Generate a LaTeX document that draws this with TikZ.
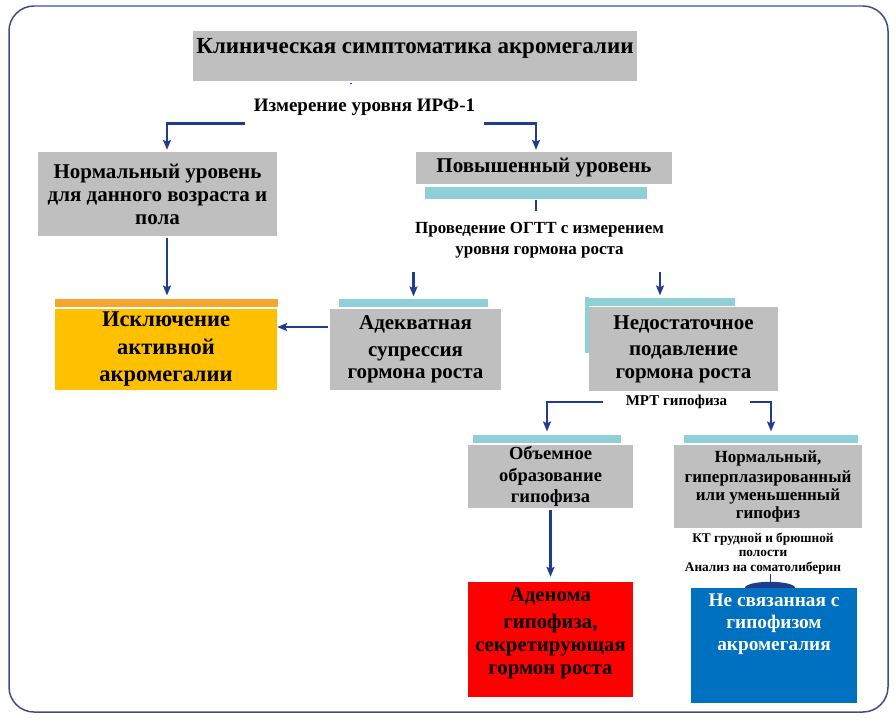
\documentclass[tikz,border=0pt]{standalone}
\usepackage{fontspec}
\setmainfont{Liberation Serif}
\usetikzlibrary{positioning,calc,arrows.meta}

\definecolor{boxgray}{HTML}{BFBFBF}
\definecolor{barcyan}{HTML}{8FD0D8}
\definecolor{barorange}{HTML}{F4A72E}
\definecolor{exclyellow}{HTML}{FFC000}
\definecolor{adenred}{HTML}{FF0000}
\definecolor{extrablue}{HTML}{0070C0}
\definecolor{arrowblue}{HTML}{203C8C}
\definecolor{framec}{HTML}{454A82}
\definecolor{frametop}{HTML}{8088D0}

\newcommand{\bfsz}[2]{\fontsize{#1}{#2}\selectfont\bfseries}

\begin{document}
\begin{tikzpicture}[x=1pt, y=-1pt,
    box/.style={fill=boxgray, align=center, inner sep=0pt},
    bar/.style={fill=barcyan, inner sep=0pt, minimum height=8pt},
    lbl/.style={align=center, inner sep=0pt},
    arr/.style={draw=arrowblue, line width=2.8pt, -{Stealth[length=10pt, width=8pt, inset=2pt]}},
    link/.style={draw=arrowblue, line width=2.8pt}]
  \useasboundingbox (0,0) rectangle (896,724);
  \draw[framec, line width=1.5pt, rounded corners=25pt] (9,6) rectangle (888,712); % outer frame
  \draw[frametop, line width=1.5pt] (34,6) -- (863,6); % lighter top edge

  \node[box, minimum width=444pt, minimum height=50pt, text height=15pt, text depth=20pt,
        font=\bfsz{23}{27}] (t) at (415,56) {Клиническая симптоматика акромегалии};
  \node[lbl, inner xsep=9pt, inner ysep=8pt, font=\bfsz{19}{22}] (irf) at (364.5,107) {Измерение уровня ИРФ-1};

  \node[box, minimum width=239pt, minimum height=84pt, font=\bfsz{21}{23}] (norm) at (157.5,194) {Нормальный уровень\\для данного возраста и\\пола};
  \node[box, minimum width=256pt, minimum height=32pt, font=\bfsz{21}{23}] (high) at (544,168) {Повышенный уровень};
  \node[bar, minimum width=222pt, minimum height=12pt, below=3pt of high, xshift=-8pt] (highbar) {};
  \node[lbl, font=\bfsz{17}{21}] (ogtt) at (539.5,240) {Проведение ОГТТ с измерением\\уровня гормона роста};

  % second row
  \node[box, fill=exclyellow, minimum width=222pt, minimum height=81pt, font=\bfsz{22.5}{27.5}] (excl) at (166,349.5) {Исключение\\активной\\акромегалии};
  \node[bar, fill=barorange, minimum width=223pt, above=2pt of excl] (exclbar) {};
  \node[box, minimum width=171pt, minimum height=81pt, font=\bfsz{21}{22.5}] (adeq) at (415.5,349.5) {Адекватная\\[4pt]супрессия\\гормона роста};
  \node[bar, minimum width=149pt, above=2pt of adeq, xshift=-2pt] (adeqbar) {};
  \node[box, minimum width=189pt, minimum height=84pt, font=\bfsz{21}{22.5}] (insuf) at (683.5,349) {Недостаточное\\[4pt]подавление\\гормона роста};
  \node[bar, minimum width=150pt, above=1pt of insuf, xshift=-23.5pt] (insufbar) {};
  \fill[barcyan] (insufbar.north west) rectangle ++(4,56);

  \node[lbl, inner xsep=23pt, font=\bfsz{15}{18}] (mri) at (676.5,402) {МРТ гипофиза};
  \node[box, minimum width=165pt, minimum height=63pt, font=\bfsz{18.5}{21.5}] (mass) at (550.5,476.5) {Объемное\\образование\\гипофиза};
  \node[bar, minimum width=148pt, above=2pt of mass, xshift=-3.5pt] (massbar) {};
  \node[box, minimum width=188pt, minimum height=83pt, font=\bfsz{17}{18}] (nrm) at (768,486.5) {Нормальный,\\[2pt]гиперплазированный\\или уменьшенный\\гипофиз};
  \node[bar, minimum width=174pt, above=2pt of nrm, xshift=3pt] (nrmbar) {};
  \node[lbl, font=\bfsz{13.3}{14.5}] (ct) at (763,553.5) {КТ грудной и брюшной\\полости\\Анализ на соматолиберин};

  % bottom row
  \node[box, fill=adenred, font=\bfsz{20.8}{23}] (aden) at (550.5,639.5) {\parbox[c][115pt][t]{165pt}{\centering\vspace*{6pt}Аденома\\[4pt]гипофиза,\\секретирующая\\гормон роста}};
  \node[box, fill=extrablue, text=white, font=\bfsz{19.3}{22}] (extra) at (774,645.5) {\parbox[c][115pt][t]{166pt}{\centering\vspace*{6pt}Не связанная с\\гипофизом\\акромегалия}};

  \coordinate (c0) at (351,0);
  \coordinate (c1) at (167,0);
  \coordinate (c2) at (536,0);
  \coordinate (r1) at (0,327);
  \draw[link, shorten <=2pt] (t.south -| c0) -- ++(0,3);
  \draw[arr, shorten >=2pt] (irf.south west) -| (norm.north -| c1);
  \draw[arr, shorten >=2pt] (irf.south east) -| (high.north -| c2);
  \draw[link] (highbar.south) -- ++(0,11);
  \draw[arr, shorten <=14pt, shorten >=2pt] (ogtt.south -| adeqbar.north) -- (adeqbar.north);
  \draw[arr, shorten <=14pt, shorten >=2pt] (ogtt.south -| insufbar.north) -- (insufbar.north);
  \draw[arr, shorten <=2pt, shorten >=3pt] (norm.south -| c1) -- (exclbar.north -| c1);
  \draw[arr, shorten <=2pt] (adeq.west |- r1) -- (excl.east |- r1);
  \draw[arr, shorten >=3pt] (mri.west) -| (massbar.north);
  \draw[arr, shorten >=3pt] (mri.east) -| (nrmbar.north);
  \draw[arr, shorten <=2pt, shorten >=5pt] (mass.south) -- (aden.north);
  \coordinate (dome) at ($(extra.north)+(-4,0)$);
  \fill[arrowblue] (dome) ++(-25,0) arc[start angle=180, end angle=360, x radius=25, y radius=6];
  \draw[link, line width=1pt] (ct.south -| dome) -- (dome);
\end{tikzpicture}
\end{document}
